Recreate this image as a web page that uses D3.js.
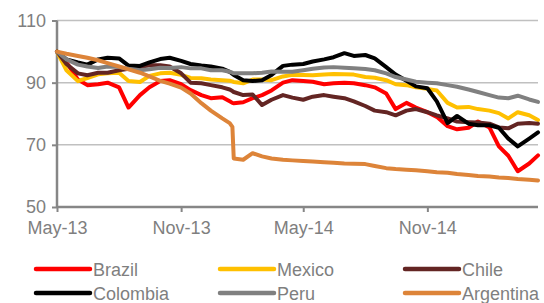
<!DOCTYPE html>
<html>
<head>
<meta charset="utf-8">
<script src="https://cdn.jsdelivr.net/npm/d3@7"></script>
<style>
  body { margin: 0; background: #fff; }
  text { font-family: "Liberation Sans", Arial, sans-serif; }
</style>
</head>
<body>
<svg id="chart" width="544" height="303"></svg>
<script>
const dates = ["2013-05-01","2013-05-15","2013-06-01","2013-06-15","2013-07-01","2013-07-15","2013-08-01","2013-08-15",
  "2013-09-01","2013-09-15","2013-10-01","2013-10-15","2013-11-01","2013-11-15","2013-12-01","2013-12-15",
  "2014-01-01","2014-01-12","2014-01-16","2014-01-18","2014-02-01","2014-02-15","2014-03-01","2014-03-15",
  "2014-04-01","2014-04-15","2014-05-01","2014-05-15","2014-06-01","2014-06-15","2014-07-01","2014-07-15",
  "2014-08-01","2014-08-15","2014-09-01","2014-09-15","2014-10-01","2014-10-15","2014-11-01","2014-11-15",
  "2014-12-01","2014-12-15","2015-01-01","2015-01-15","2015-02-01","2015-02-15","2015-03-01","2015-03-15",
  "2015-04-01","2015-04-14"];

const brazil = [100,96.5,91,89.2,89.5,90,88.5,82,86,88.5,90.5,90.8,89.5,87.6,86,85,
  85.3,84,83.5,83.4,83.7,85,86,87.5,90,90.8,90.5,90.3,89.5,89.8,90,89.8,
  89.2,88.5,86.5,81.5,83.5,82,80.5,79,76,75,75.5,77.5,75.6,69.5,66.5,61.5,64,66.6];
const mexico = [100,94,90.5,91.5,92.7,93,93.2,90.5,90.2,92.2,93,93.2,92.5,91.5,91.4,91,
  90.8,90.6,90.4,90.2,89.8,91,91,90.8,92,92.5,92.5,92.4,92.6,92.8,92.7,92.6,
  91.8,91.6,90.8,89.5,89.2,88.5,88,87.5,83.5,82,82.2,81.5,81,80.2,78.5,80.5,79.5,78];
const chile = [100,96,93,92.4,93.2,93.2,94,94.5,95,95.6,95.6,95.2,93,90,89.8,89.2,
  88.5,87.8,87.3,87,86,86.2,82.8,84.5,86,85.2,84.5,85.5,86,85.5,85,84,
  82.5,81,80.5,79.5,81,81.5,80.5,79.5,78.5,77.5,77.3,77.2,76.8,75.6,75.3,76.8,77,76.8];
const colombia = [100,97.5,96.5,95.8,97.5,98,97.8,95.5,95.4,96.5,97.6,98,97,96,95.5,95.2,
  94.5,93.5,92.8,92.5,90.8,90.5,90.8,92.5,95.4,95.8,96,96.8,97.5,98.2,99.5,98.6,
  98.9,97.8,95,92.6,90.6,88.8,88.2,84,77,79.3,76.8,76.3,76.3,75.5,72,69.5,72,74];
const peru = [100,97.5,95.8,95.2,94.7,95.2,95,94.5,94,94.3,94.8,94.7,95,94.6,94.6,94,
  94,93.5,93.2,93,93,93,93.2,93.6,93.5,93.5,94,94.5,94.9,95,94.8,94.6,
  94.4,94,93,91.8,91,90.3,90,89.8,89.2,88.7,87.8,87,86,85.2,85,85.8,84.6,83.8];
const argentina = [100,99.3,98.6,98,97.2,96.3,95.2,94.3,93.2,92,90.6,89.7,88.4,86.5,83.4,81,
  78.5,77,75.8,65.6,65.2,67.3,66.3,65.6,65.2,65,64.8,64.6,64.4,64.2,64,63.9,
  63.8,63.2,62.5,62.2,62,61.8,61.5,61.2,61,60.6,60.3,60,59.8,59.5,59.3,59,58.8,58.5];

const seriesNames = ["Brazil","Mexico","Chile","Colombia","Peru","Argentina"];
const seriesValues = [brazil, mexico, chile, colombia, peru, argentina];
const seriesColors = ["#ff0000","#ffc000","#632523","#000000","#808080","#dd8439"];

const yTicks = [50,70,90,110];
const xTicks = ["2013-05-01","2013-11-01","2014-05-01","2014-11-01"];

const parse = d3.timeParse("%Y-%m-%d");
const svg = d3.select("#chart");
const margin = {left: 57, right: 538, top: 20.5, bottom: 207};

const x = d3.scaleTime()
  .domain([parse("2013-05-01"), parse("2015-04-14")])
  .range([margin.left, margin.right]);
const y = d3.scaleLinear().domain([50, 110]).range([margin.bottom, margin.top]);

const axisColor = "#868686";
const textColor = "#7f7f7f";

// gridlines
svg.append("g").selectAll("line")
  .data(yTicks.filter(t => t > 50))
  .join("line")
  .attr("x1", margin.left).attr("x2", margin.right)
  .attr("y1", d => y(d)).attr("y2", d => y(d))
  .attr("stroke", "#c0c0c0").attr("stroke-width", 1.5);

// y axis
const yAxis = svg.append("g")
  .attr("transform", `translate(${margin.left},0)`)
  .call(d3.axisLeft(y).tickValues(yTicks).tickSize(5).tickPadding(6));
yAxis.select(".domain").attr("stroke", axisColor).attr("stroke-width", 2.5)
  .attr("d", `M0,${margin.top}V${margin.bottom}`);
yAxis.selectAll(".tick line").attr("stroke", axisColor).attr("stroke-width", 2);
yAxis.selectAll(".tick text").attr("fill", textColor).style("font-size", "18px");

// x axis
const xAxis = svg.append("g")
  .attr("transform", `translate(0,${margin.bottom})`)
  .call(d3.axisBottom(x).tickValues(xTicks.map(parse)).tickFormat(d3.timeFormat("%b-%y"))
    .tickSize(5).tickPadding(9));
xAxis.select(".domain").attr("stroke", axisColor).attr("stroke-width", 2.5)
  .attr("d", `M${margin.left},0H${margin.right}`);
xAxis.selectAll(".tick line").attr("stroke", axisColor).attr("stroke-width", 2);
xAxis.selectAll(".tick text").attr("fill", textColor).style("font-size", "18px");
svg.selectAll(".tick text").attr("font-family", null);

// series
const line = d3.line()
  .x((d, i) => x(parse(dates[i])))
  .y(d => y(d));

seriesValues.forEach((vals, k) => {
  svg.append("path")
    .attr("d", line(vals))
    .attr("fill", "none")
    .attr("stroke", seriesColors[k])
    .attr("stroke-width", 4)
    .attr("stroke-linejoin", "round")
    .attr("stroke-linecap", "round");
});

// legend
const legendCols = [36, 220, 405];
const legendRows = [269, 293];
seriesNames.forEach((name, i) => {
  const lx = legendCols[i % 3];
  const ly = legendRows[Math.floor(i / 3)];
  const g = svg.append("g");
  g.append("line")
    .attr("x1", lx).attr("x2", lx + 54)
    .attr("y1", ly).attr("y2", ly)
    .attr("stroke", seriesColors[i]).attr("stroke-width", 4.5)
    .attr("stroke-linecap", "round");
  g.append("text")
    .attr("x", lx + 57).attr("y", ly + 6.5)
    .attr("fill", textColor)
    .style("font-size", "18px")
    .text(name);
});
</script>
</body>
</html>
